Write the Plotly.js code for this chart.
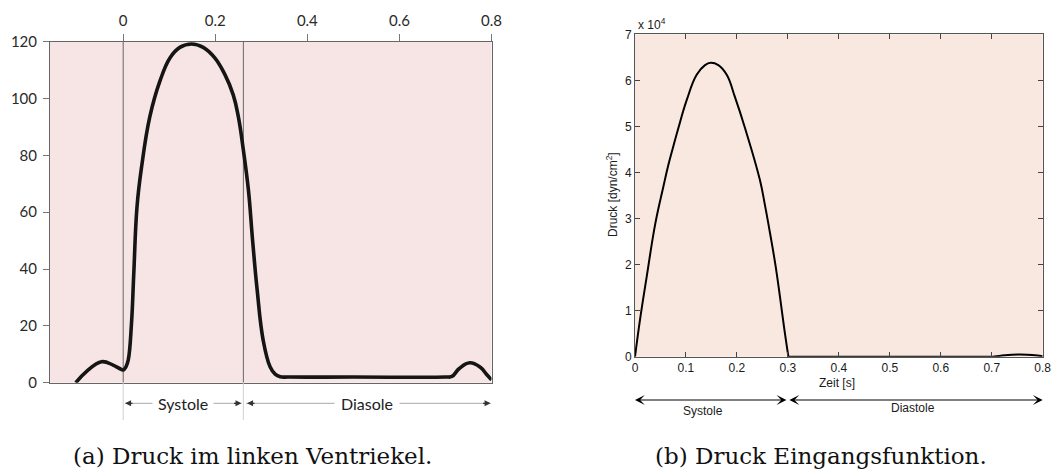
<!DOCTYPE html>
<html>
<head>
<meta charset="utf-8">
<script src="https://cdn.plot.ly/plotly-3.0.1.min.js"></script>
<style>html,body{margin:0;padding:0;background:#fff;}#chart{width:1051px;height:472px;}</style>
</head>
<body>
<div id="chart"></div>
<script>
// (a) Druck im linken Ventrikel [mmHg] over time [s]
const lvTime = [-0.103, -0.080, -0.047, -0.022, -0.008, 0, 0.006, 0.011, 0.018, 0.023, 0.030, 0.040, 0.058, 0.0797, 0.1015, 0.123, 0.1486, 0.1738, 0.199, 0.221, 0.239, 0.250, 0.261, 0.272, 0.281, 0.291, 0.304, 0.319, 0.330, 0.341, 0.360, 0.500, 0.700, 0.714, 0.730, 0.753, 0.775, 0.790, 0.800];
const lvPressure = [0, 3.9, 7.4, 6.2, 5.0, 4.5, 5.6, 8.0, 20.9, 38.5, 61.9, 76.0, 93.7, 106.1, 114.3, 118.0, 119.2, 118.0, 114.3, 108.4, 101.3, 93.7, 81.9, 67.8, 50.2, 32.6, 15.0, 5.6, 3.0, 2.1, 2.0, 2.0, 2.0, 2.2, 5.0, 7.0, 5.5, 2.8, 1.0];
const lvTicks = [0, 0.2, 0.4, 0.6, 0.8];
const lvTickText = ['0', '0.2', '0.4', '0.6', '0.8'];
const lvYTicks = [0, 20, 40, 60, 80, 100, 120];
const lvSystoleStart = 0, lvSystoleEnd = 0.261, lvCycleEnd = 0.8;

// (b) Druck Eingangsfunktion [dyn/cm^2] over time [s]
const inSysTime = [0, 0.0098, 0.023, 0.040, 0.0556, 0.0654, 0.075, 0.085, 0.1014, 0.121, 0.1374, 0.1485, 0.1635, 0.180, 0.196, 0.216, 0.245, 0.255, 0.265, 0.275, 0.2845, 0.2924, 0.301];
const inSysPressure = [0, 8000, 17400, 29000, 36900, 41600, 45600, 49600, 55700, 61200, 63300, 63800, 63300, 61200, 56400, 49600, 38400, 32900, 26800, 20300, 13000, 6500, 0];
const inDiaTime = [0.301, 0.40, 0.50, 0.60, 0.700, 0.720, 0.740, 0.755, 0.770, 0.790, 0.800];
const inDiaPressure = [0, 0, 0, 0, 0, 250, 450, 500, 450, 250, 100];
const inXTicks = [0, 0.1, 0.2, 0.3, 0.4, 0.5, 0.6, 0.7, 0.8];
const inXTickText = ['0', '0.1', '0.2', '0.3', '0.4', '0.5', '0.6', '0.7', '0.8'];
const inYTicks = [0, 10000, 20000, 30000, 40000, 50000, 60000, 70000];
const inYTickText = ['0', '1', '2', '3', '4', '5', '6', '7'];
const inSystoleEnd = 0.3, inCycleEnd = 0.8;

const W = 1051, H = 472;
const px = v => v / W, py = v => (H - v) / H;

const lvFont = {family: 'Lato, "Open Sans", sans-serif', size: 15, color: '#2a2a2a'};
const mlFont = {family: '"Liberation Sans", Arial, sans-serif', size: 12, color: '#1a1a1a'};

const traces = [
  {x: lvTime, y: lvPressure, xaxis: 'x', yaxis: 'y', mode: 'lines',
   line: {color: '#151515', width: 3.6, shape: 'spline', smoothing: 1.2}, hoverinfo: 'skip'},
  {x: inSysTime, y: inSysPressure, xaxis: 'x2', yaxis: 'y2', mode: 'lines',
   line: {color: '#000', width: 2, shape: 'spline', smoothing: 1.2}, hoverinfo: 'skip'},
  {x: inDiaTime, y: inDiaPressure, xaxis: 'x2', yaxis: 'y2', mode: 'lines',
   line: {color: '#000', width: 2, shape: 'spline', smoothing: 0.6}, hoverinfo: 'skip'}
];

const rowA = py(403.3);
const rowB = py(400);

const shapes = [
  {type: 'rect', xref: 'x domain', yref: 'y domain', x0: 0, x1: 1, y0: 0, y1: 1, layer: 'below', fillcolor: '#F7E5E5', line: {width: 0}},
  {type: 'rect', xref: 'x2 domain', yref: 'y2 domain', x0: 0, x1: 1, y0: 0, y1: 1, layer: 'below', fillcolor: '#F9E8E0', line: {width: 0}},
  {type: 'line', xref: 'x', yref: 'y', x0: lvSystoleStart, x1: lvSystoleStart, y0: 0, y1: 120, layer: 'below', line: {color: '#666', width: 1}},
  {type: 'line', xref: 'x', yref: 'y', x0: lvSystoleEnd, x1: lvSystoleEnd, y0: 0, y1: 120, layer: 'below', line: {color: '#666', width: 1}},
  {type: 'line', xref: 'x', yref: 'paper', x0: lvSystoleStart, x1: lvSystoleStart, y0: py(420), y1: py(383), line: {color: '#d0d0d0', width: 1}},
  {type: 'line', xref: 'x', yref: 'paper', x0: lvSystoleEnd, x1: lvSystoleEnd, y0: py(420), y1: py(383), line: {color: '#d0d0d0', width: 1}},
  {type: 'line', xref: 'x', yref: 'paper', x0: lvSystoleStart + 0.004, x1: lvSystoleEnd - 0.004, y0: rowA, y1: rowA, line: {color: '#a8a8a8', width: 1}},
  {type: 'line', xref: 'x', yref: 'paper', x0: lvSystoleEnd + 0.006, x1: lvCycleEnd - 0.002, y0: rowA, y1: rowA, line: {color: '#a8a8a8', width: 1}}
];

const headA = (x, dir) => ({xref: 'x', yref: 'paper', x: x, y: rowA, text: '', showarrow: true,
  ax: dir * 9, ay: 0, arrowhead: 2, arrowsize: 1.0, arrowwidth: 1.2, arrowcolor: '#333'});

const txt = (x, y, text, font, extra) => Object.assign({xref: 'paper', yref: 'paper', x: x, y: y, text: text,
  showarrow: false, xanchor: 'center', yanchor: 'middle', font: font}, extra || {});

const serif = {family: '"DejaVu Serif", "Liberation Serif", serif', size: 23, color: '#111'};
const lvLabelFont = {family: 'Lato, sans-serif', size: 16, color: '#222'};

const annotations = [
  headA(lvSystoleStart + 0.004, 1),
  headA(lvSystoleEnd - 0.004, -1),
  headA(lvSystoleEnd + 0.008, 1),
  headA(lvCycleEnd - 0.002, -1),
  {xref: 'x', yref: 'paper', x: (lvSystoleStart + lvSystoleEnd) / 2, y: rowA, text: 'Systole', showarrow: false,
   xanchor: 'center', yanchor: 'middle', font: lvLabelFont, bgcolor: '#ffffff', borderpad: 5},
  {xref: 'x', yref: 'paper', x: (lvSystoleEnd + lvCycleEnd) / 2, y: rowA, text: 'Diasole', showarrow: false,
   xanchor: 'center', yanchor: 'middle', font: lvLabelFont, bgcolor: '#ffffff', borderpad: 6},
  {xref: 'x2', yref: 'paper', x: 0, y: rowB, ax: inSystoleEnd, axref: 'x2', ay: 0, text: '', showarrow: true,
   arrowside: 'end+start', arrowhead: 3, startarrowhead: 3, arrowsize: 1.5, startarrowsize: 1.5, arrowwidth: 1.1, arrowcolor: '#000'},
  {xref: 'x2', yref: 'paper', x: inCycleEnd, y: rowB, ax: inSystoleEnd, axref: 'x2', ay: 0, text: '', showarrow: true,
   arrowside: 'end+start', arrowhead: 3, startarrowhead: 3, arrowsize: 1.5, startarrowsize: 1.5, arrowwidth: 1.1, arrowcolor: '#000'},
  txt(px(703), py(411), 'Systole', mlFont),
  txt(px(912.7), py(408), 'Diastole', mlFont),
  txt(px(837), py(383), 'Zeit [s]', mlFont),
  txt(px(612), py(195), 'Druck [dyn/cm<sup>2</sup>]', mlFont, {textangle: -90}),
  txt(px(636), py(24), 'x 10<sup>4</sup>', mlFont, {xanchor: 'left'}),
  txt(px(252), py(456), '(a) Druck im linken Ventriekel.', serif),
  txt(px(821), py(456), '(b) Druck Eingangsfunktion.', serif)
];

const layout = {
  width: W, height: H,
  margin: {l: 0, r: 0, t: 0, b: 0},
  paper_bgcolor: '#ffffff', plot_bgcolor: 'rgba(0,0,0,0)',
  showlegend: false,
  xaxis: {domain: [px(50), px(491.5)], range: [-0.159, 0.8], side: 'top', anchor: 'y',
    tickvals: lvTicks, ticktext: lvTickText, ticks: 'outside', ticklen: 7, tickcolor: '#777',
    showline: true, mirror: true, linecolor: '#666', linewidth: 1, showgrid: false, zeroline: false,
    tickfont: lvFont, ticklabelstandoff: 2, ticklabeloverflow: 'allow'},
  yaxis: {domain: [py(382.7), py(41.7)], range: [0, 120], anchor: 'x',
    tickvals: lvYTicks, ticks: 'outside', ticklen: 6, tickcolor: '#777',
    showline: true, mirror: true, linecolor: '#666', linewidth: 1, showgrid: false, zeroline: false,
    tickfont: lvFont, ticklabelstandoff: 3},
  xaxis2: {domain: [px(635), px(1042.7)], range: [0, 0.8], anchor: 'y2',
    tickvals: inXTicks, ticktext: inXTickText, ticklabeloverflow: 'allow',
    ticks: 'inside', ticklen: 5, tickcolor: '#444', showline: true, mirror: 'ticks', linecolor: '#555', linewidth: 1,
    showgrid: false, zeroline: false, tickfont: mlFont},
  yaxis2: {domain: [py(356.7), py(34.3)], range: [0, 70000], anchor: 'x2',
    tickvals: inYTicks, ticktext: inYTickText,
    ticks: 'inside', ticklen: 5, tickcolor: '#444', showline: true, mirror: 'ticks', linecolor: '#555', linewidth: 1,
    showgrid: false, zeroline: false, tickfont: mlFont},
  shapes: shapes,
  annotations: annotations
};

Plotly.newPlot('chart', traces, layout, {staticPlot: true, displayModeBar: false});
</script>
</body>
</html>
